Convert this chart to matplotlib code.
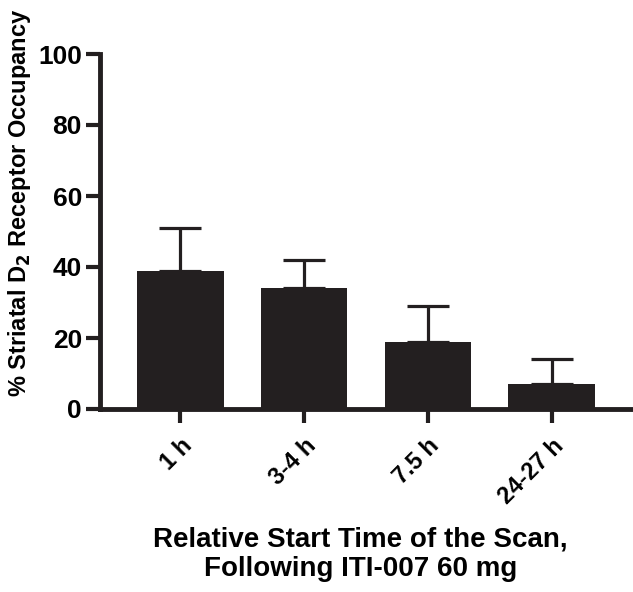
import matplotlib
matplotlib.use("Agg")
import matplotlib.pyplot as plt

plt.rcParams['font.family'] = ['Liberation Sans', 'DejaVu Sans']
plt.rcParams['font.weight'] = 'bold'
plt.rcParams['mathtext.default'] = 'bf'

labels = ["1 h", "3-4 h", "7.5 h", "24-27 h"]
occupancy = [39, 34, 19, 7]
err_upper = [12, 8, 10, 7]

bar_color = "#231f20"

fig = plt.figure(figsize=(6.33, 5.92), dpi=100)
ax = fig.add_axes([100 / 633, 1 - 409 / 592, 532 / 633, 355 / 592])

x = list(range(len(labels)))
ax.bar(x, occupancy, width=0.7, color=bar_color, zorder=3)
ax.errorbar(x, occupancy, yerr=[[0] * len(x), err_upper], fmt='none',
            ecolor=bar_color, elinewidth=2.3, capsize=15, capthick=2.3, zorder=2)

ax.set_xlim(-0.65, 3.65)
ax.set_ylim(0, 100)
ax.set_yticks([0, 20, 40, 60, 80, 100])
ax.set_xticks(x)
ax.set_xticklabels(labels, rotation=45, ha='right', rotation_mode='anchor',
                   fontsize=17, fontweight='bold')
for lab in ax.get_yticklabels():
    lab.set_fontsize(19)
    lab.set_fontweight('bold')

for side in ['top', 'right']:
    ax.spines[side].set_visible(False)
for side in ['left', 'bottom']:
    ax.spines[side].set_linewidth(3.5)
    ax.spines[side].set_color(bar_color)
ax.tick_params(axis='both', width=3, length=10, color=bar_color)
ax.tick_params(axis='x', pad=8)
ax.tick_params(axis='y', pad=3)

ax.set_ylabel("% Striatal D$_2$ Receptor Occupancy", fontsize=17,
              fontweight='bold')
ax.yaxis.set_label_coords(-0.125, 0.58)
ax.set_xlabel("Relative Start Time of the Scan,\nFollowing ITI-007 60 mg",
              fontsize=20, fontweight='bold')
ax.xaxis.set_label_coords(0.489, -0.33)

fig.savefig("out.png", dpi=100)
